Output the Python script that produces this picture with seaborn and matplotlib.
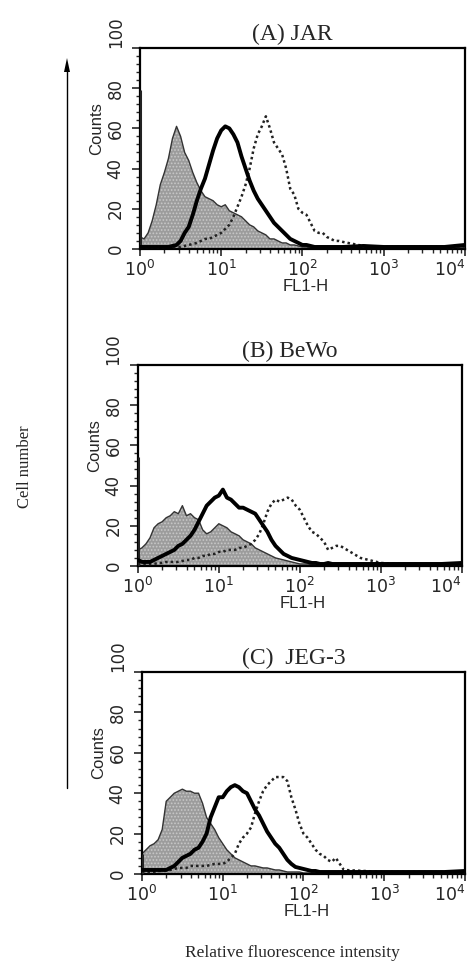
import numpy as np
import pandas as pd
import seaborn as sns
import matplotlib.pyplot as plt
from matplotlib.ticker import MultipleLocator

sns.set_style('ticks')
plt.rcParams['font.family'] = ['DejaVu Sans']
plt.rcParams['hatch.linewidth'] = 0.8

#%% Dados lidos do histograma (FL1-H em log10, contagens)

# canais: passo fino ate 10^2.45, depois passo largo ate 10^4
log_fl = np.r_[np.linspace(0, 2.45, 50), np.linspace(2.5, 4.0, 7)]

painel = ['(A) JAR', '(B) BeWo', '(C)  JEG-3']
ticks_x = [1, 10, 100, 1000, 10000]
rotulos_x = ['$10^{0}$', '$10^{1}$', '$10^{2}$', '$10^{3}$', '$10^{4}$']
ticks_y = [0, 20, 40, 60, 80, 100]

# (A) JAR
jar_cinza = [6, 5, 8, 14, 22, 32, 38, 45, 55, 61,
             56, 48, 44, 38, 33, 29, 26, 25, 24, 22,
             21, 22, 19, 18, 17, 16, 14, 12, 11, 9,
             8, 7, 5, 5, 4, 3, 3, 2, 2, 1.5,
             1, 1, 0.5, 0.5, 0.5, 0.5, 0.5, 0.5, 0.5, 0.5,
             0.5, 0.5, 0.5, 0.5, 0.5, 0.5, 1]
jar_solido = [1, 1, 1, 1, 1, 1, 1, 1, 1.5, 2,
              4, 8, 11, 17, 24, 30, 35, 42, 49, 55,
              59, 61, 60, 57, 53, 46, 40, 34, 29, 25,
              22, 19, 16, 13, 11, 9, 7, 5, 4, 3,
              2, 2, 1.5, 1, 1, 1, 1, 1, 1, 1,
              1, 1.5, 1, 1, 1, 1, 2]
jar_pontilhado = [0.5, 0.5, 0.5, 0.5, 0.5, 0.5, 0.5, 1, 1, 1,
                  1, 1.5, 2, 2.5, 3, 4, 5, 5, 6, 7,
                  8, 10, 12, 16, 21, 26, 32, 40, 50, 57,
                  61, 66, 60, 53, 50, 47, 40, 30, 27, 20,
                  18, 17, 13, 9, 8, 8, 6, 5, 4, 4,
                  3.5, 1.5, 1, 1, 1, 1, 1]

# (B) BeWo
bewo_cinza = [8, 9, 11, 14, 19, 21, 22, 24, 25, 27,
              26, 30, 25, 26, 24, 23, 18, 16, 17, 19,
              21, 20, 19, 17, 16, 15, 13, 12, 11, 9,
              8, 7, 6, 5, 4, 3.5, 3, 2.5, 2, 1.5,
              1, 1, 1, 0.5, 0.5, 0.5, 0.5, 0.5, 0.5, 0.5,
              0.5, 0.5, 0.5, 0.5, 0.5, 0.5, 1]
bewo_solido = [3, 2, 2, 2, 3, 4, 5, 6, 7, 8,
               10, 11, 13, 15, 18, 22, 26, 30, 32, 34,
               35, 38, 34, 33, 31, 29, 29, 28, 27, 26,
               23, 20, 17, 13, 10, 8, 6, 5, 4, 3.5,
               3, 2.5, 2, 1.5, 1.5, 1, 1, 1.5, 1, 1,
               1, 1, 1, 1, 1, 1, 1.5]
bewo_pontilhado = [1, 1, 1, 1, 1, 1.5, 1.5, 2, 2, 2,
                   2, 2.5, 3, 3, 4, 4, 5, 5, 6, 6,
                   7, 7, 8, 8, 8, 9, 9, 10, 11, 13,
                   16, 21, 27, 31, 33, 32, 33, 34, 33, 30,
                   28, 24, 20, 17, 16, 14, 12, 8, 9, 10,
                   10, 4, 1.5, 1, 1, 1, 1]

# (C) JEG-3
jeg_cinza = [10, 12, 14, 15, 17, 22, 36, 38, 40, 41,
             42, 41, 41, 40, 40, 35, 28, 25, 22, 18,
             15, 12, 10, 8, 7, 6, 5, 4, 4, 3.5,
             3, 3, 2.5, 2, 2, 1.5, 1, 1, 1, 1,
             0.5, 0.5, 0.5, 0.5, 0.5, 0.5, 0.5, 0.5, 0.5, 0.5,
             0.5, 0.5, 0.5, 0.5, 0.5, 0.5, 1.5]
jeg_solido = [2, 2, 2, 2, 2, 2, 2, 3, 4, 6,
              8, 9, 10, 12, 13, 16, 20, 28, 33, 38,
              38, 41, 43, 44, 43, 41, 40, 36, 32, 29,
              25, 21, 18, 15, 13, 10, 7, 5, 3.5, 3,
              2.5, 2, 1.5, 1.5, 1, 1, 1, 1, 1, 1,
              1, 1, 1, 1, 1, 1, 1.5]
jeg_pontilhado = [1, 1, 1, 1, 1.5, 1.5, 2, 2, 2.5, 3,
                  3, 3, 4, 4, 4, 4, 4, 4.5, 5, 5,
                  5, 6, 8, 10, 15, 18, 20, 23, 30, 36,
                  41, 44, 46, 48, 48, 48, 46, 38, 32, 25,
                  20, 18, 15, 12, 10, 9, 7, 6, 8, 5,
                  2, 1.5, 1, 1, 1, 1, 1]

# acumulo no primeiro canal (linha vertical em 10^0)
pico_borda = [79, 54, 10]

cinza = [jar_cinza, bewo_cinza, jeg_cinza]
solido = [jar_solido, bewo_solido, jeg_solido]
pontilhado = [jar_pontilhado, bewo_pontilhado, jeg_pontilhado]

#%% Figura

fig = plt.figure(figsize=(4.77, 9.65), dpi=100)

# posicoes dos paineis (left, bottom, width, height) em fracao da figura
posicoes = [[0.2935, 0.742, 0.681, 0.2083],
            [0.289, 0.4135, 0.679, 0.2083],
            [0.2977, 0.0943, 0.677, 0.2093]]

for i in range(3):
    ax = fig.add_axes(posicoes[i])
    df = pd.DataFrame({'FL1': 10 ** log_fl,
                       'cinza': cinza[i],
                       'solido': solido[i],
                       'pontilhado': pontilhado[i]})

    ax.fill_between(df['FL1'], df['cinza'], facecolor='#9c9c9c',
                    edgecolor='#c8c8c8', hatch='.....', lw=0, zorder=1)
    ax.plot(df['FL1'], df['cinza'], color='#333333', lw=1.0, zorder=2)
    ax.vlines(1.0, 0, pico_borda[i], color='#222222', lw=2.2, zorder=3)

    sns.lineplot(data=df, x='FL1', y='pontilhado', ax=ax, color='#222222',
                 lw=1.8, linestyle=(0, (1, 1.2)), zorder=3)
    sns.lineplot(data=df, x='FL1', y='solido', ax=ax, color='black',
                 lw=2.8, zorder=4)

    ax.set_xscale('log')
    ax.set_xlim(1, 1e4)
    ax.set_ylim(0, 100)
    ax.set_xticks(ticks_x, rotulos_x)
    ax.set_yticks(ticks_y, [str(v) for v in ticks_y])
    ax.yaxis.set_minor_locator(MultipleLocator(4))
    ax.tick_params(axis='y', which='major', length=6, width=1.2, pad=5,
                   labelsize=12, labelrotation=90)
    ax.tick_params(axis='y', which='minor', length=3, width=1)
    ax.tick_params(axis='x', which='major', length=5, width=1.2, pad=3,
                   labelsize=12.5)
    ax.tick_params(axis='x', which='minor', length=3, width=1)

    ylbls = ax.get_yticklabels()
    for lbl in ylbls:
        lbl.set_va('center')
    ylbls[-1].set_va('bottom')
    ax.get_xticklabels()[-1].set_ha('right')

    for s in ax.spines.values():
        s.set_linewidth(1.6)
        s.set_color('black')

    ax.set_xlabel('FL1-H', fontsize=12, family='Liberation Sans')
    ax.xaxis.set_label_coords(0.51, -0.15)
    ax.set_ylabel('Counts', fontsize=12, family='Liberation Sans')
    ax.yaxis.set_label_coords(-0.11, 0.6)

    ax.set_title(painel[i], fontsize=17, family='Liberation Serif', pad=6, x=0.47)

# eixo comum "Cell number" com seta
fig.text(25 / 477, 1 - 467 / 965, 'Cell number', rotation=90, ha='center',
         va='center', fontsize=12, family='Liberation Serif')
fig.add_artist(plt.Line2D([67 / 477, 67 / 477], [1 - 788 / 965, 1 - 70 / 965],
                          color='black', lw=1.0))
fig.add_artist(plt.Polygon([[64 / 477, 1 - 72 / 965], [70 / 477, 1 - 72 / 965],
                            [67 / 477, 1 - 58 / 965]], closed=True,
                           color='black', lw=0))

fig.text(292 / 477, 1 - 953 / 965, 'Relative fluorescence intensity',
         ha='center', va='center', fontsize=12.5, family='Liberation Serif')

plt.savefig('out.png', dpi=100)
